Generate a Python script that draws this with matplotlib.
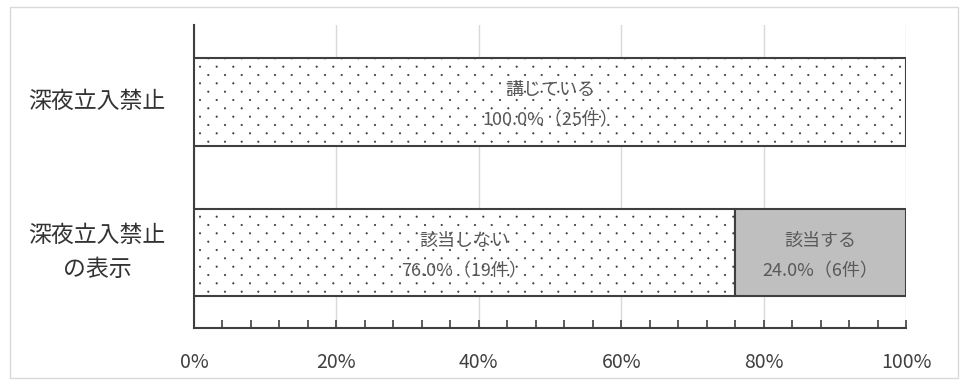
import matplotlib
matplotlib.use("Agg")
import numpy as np
import matplotlib.pyplot as plt
import matplotlib.hatch as mhatch
from matplotlib.path import Path
from matplotlib.patches import Rectangle
from matplotlib.ticker import MultipleLocator, PercentFormatter
import matplotlib.transforms as mtransforms

plt.rcParams['font.family'] = ['Noto Sans CJK JP', 'DejaVu Sans']
plt.rcParams['hatch.linewidth'] = 0.5


class FineDots(mhatch.HatchPatternBase):
    """Staggered small-dot fill: 6 dots per inch across, 12 rows per inch."""

    cols = 6
    rows = 12
    radius = 0.007

    def __init__(self, hatch, density):
        self.active = "." in hatch
        circle = Path.unit_circle()
        self.shape_vertices = circle.vertices * self.radius
        self.shape_codes = circle.codes
        self.centers = []
        if self.active:
            for r in range(self.rows + 1):
                y = r / self.rows
                if r % 2 == 0:
                    xs = np.linspace(0, 1, self.cols + 1)
                else:
                    xs = np.linspace(0.5 / self.cols, 1 - 0.5 / self.cols, self.cols)
                self.centers.extend((x, y) for x in xs)
        self.num_vertices = len(self.centers) * len(self.shape_vertices)

    def set_vertices_and_codes(self, vertices, codes):
        n = len(self.shape_vertices)
        for i, c in enumerate(self.centers):
            vertices[i * n:(i + 1) * n] = self.shape_vertices + c
            codes[i * n:(i + 1) * n] = self.shape_codes


mhatch._hatch_types = [t for t in mhatch._hatch_types
                       if t is not mhatch.SmallFilledCircles] + [FineDots]

# Categories from bottom to top
categories = ["深夜立入禁止\nの表示", "深夜立入禁止"]
# Segments per category: (label, percent, count, style)
segment_labels = [["該当しない", "該当する"], ["講じている"]]
segment_values = [[76.0, 24.0], [100.0]]
segment_counts = [[19, 6], [25]]
segment_styles = [["dots", "gray"], ["dots"]]
x_ticks = [0, 20, 40, 60, 80, 100]

fig = plt.figure(figsize=(9.6, 3.8), dpi=100)
fig.patch.set_facecolor("white")
fig.patches.append(Rectangle((10 / 960, 2 / 380), 948 / 960, 371 / 380,
                             transform=fig.transFigure, fill=False,
                             edgecolor="#d9d9d9", linewidth=1.0))

ax = fig.add_axes([194 / 960, 1 - 328 / 380, 712 / 960, 303 / 380])

bar_h = 0.58
for yi, (labs, vals, cnts, styles) in enumerate(zip(segment_labels, segment_values,
                                                   segment_counts, segment_styles)):
    left = 0.0
    for lab, v, c, st in zip(labs, vals, cnts, styles):
        if st == "dots":
            ax.barh(yi, v, left=left, height=bar_h, color="white", hatch=".",
                    edgecolor="#3f3f3f", linewidth=1.5, zorder=3)
        else:
            ax.barh(yi, v, left=left, height=bar_h, color="#bfbfbf",
                    edgecolor="#3f3f3f", linewidth=1.5, zorder=3)
        ax.text(left + v / 2, yi - 0.02, f"{lab}\n{v:.1f}%（{c}件）", ha="center",
                va="center", fontsize=13, color="#595959", linespacing=1.9,
                zorder=5)
        left += v

ax.set_xlim(0, 100)
ax.set_ylim(-0.5, 1.51)
ax.xaxis.set_major_locator(MultipleLocator(20))
ax.xaxis.set_minor_locator(MultipleLocator(4))
ax.xaxis.set_major_formatter(PercentFormatter(decimals=0))
ax.set_xticks(x_ticks)
ax.tick_params(axis="x", which="both", direction="in", length=6, width=1.2,
               color="#3f3f3f", labelsize=14, labelcolor="#404040", pad=17)
ax.set_yticks([])
ax.grid(axis="x", which="major", color="#d9d9d9", linewidth=1.0, zorder=0)
ax.set_axisbelow(True)
for s in ["top", "right"]:
    ax.spines[s].set_visible(False)
for s in ["left", "bottom"]:
    ax.spines[s].set_color("#3f3f3f")
    ax.spines[s].set_linewidth(1.5)

# Category labels centered in the left margin
trans = mtransforms.blended_transform_factory(fig.transFigure, ax.transData)
for yi, cat in enumerate(categories):
    ax.text(97 / 960, yi, cat, transform=trans, ha="center", va="center",
            fontsize=16.5, color="#333333", linespacing=1.6, clip_on=False)

fig.savefig("out.png", dpi=100, facecolor="white")
